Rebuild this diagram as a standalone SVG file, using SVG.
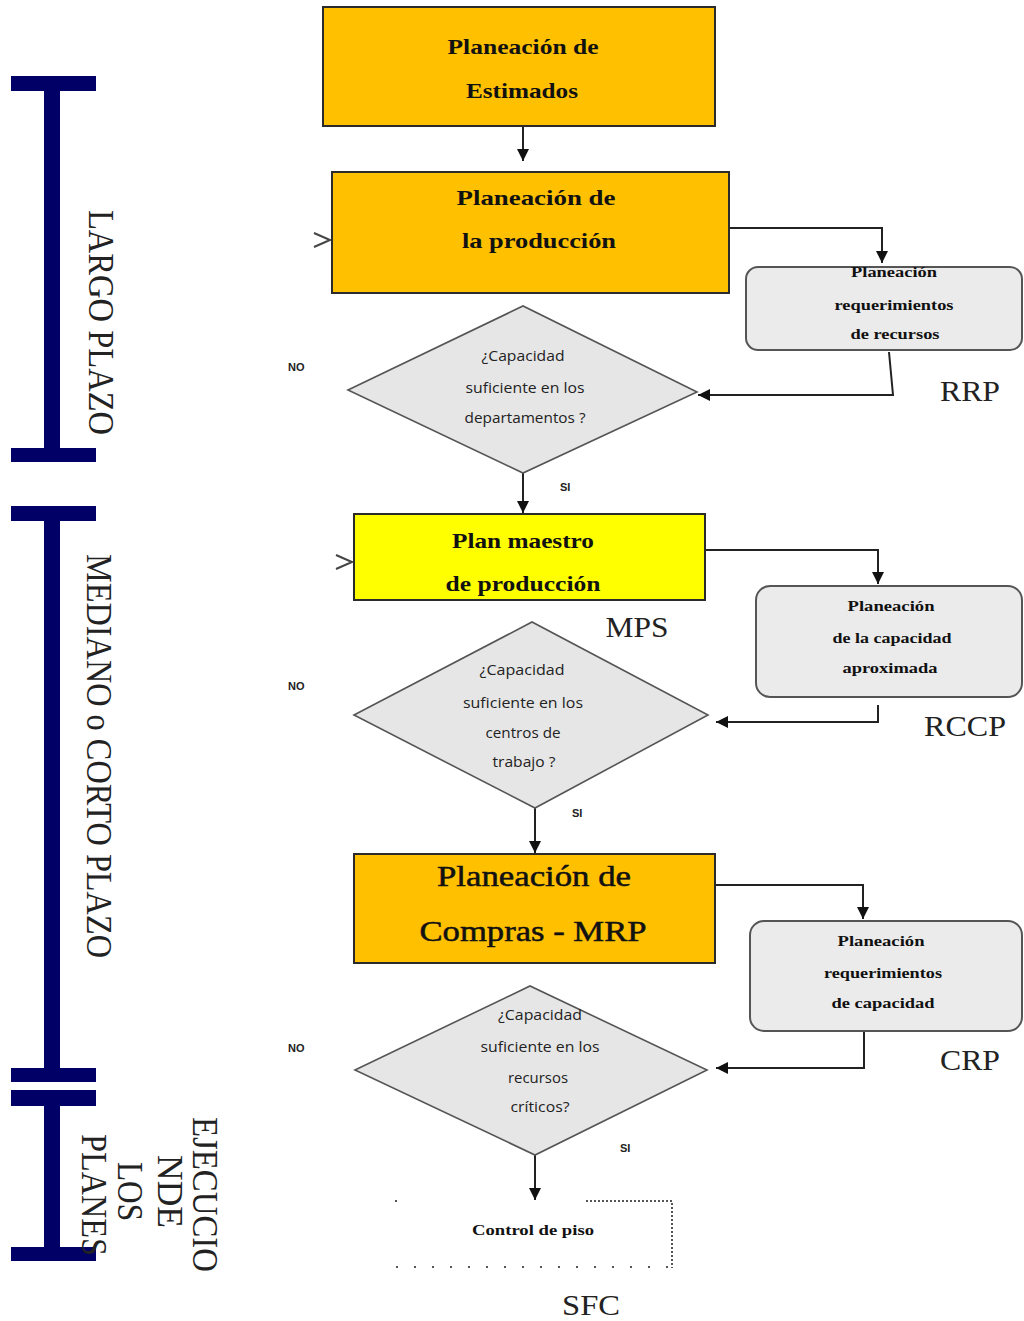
<svg xmlns="http://www.w3.org/2000/svg" width="1024" height="1321" viewBox="0 0 1024 1321">
<style>
.bg{fill:#ffffff}
.box{stroke:#2b2b2b;stroke-width:2}
.orange{fill:#FFC000}
.yellow{fill:#FFFF00}
.gray{fill:#EBEBEB;stroke:#555;stroke-width:2}
.dia{fill:#E6E6E6;stroke:#555;stroke-width:1.6}
.bt{font-family:"Liberation Serif",serif;font-weight:bold;font-size:22px;fill:#111;text-anchor:middle}
.bt2{font-family:"Liberation Serif",serif;font-size:29px;fill:#111;stroke:#111;stroke-width:0.5;text-anchor:middle}
.gt{font-family:"Liberation Serif",serif;font-weight:bold;font-size:15px;fill:#111;text-anchor:middle}
.dt{font-family:"Open Sans",sans-serif;font-size:14px;fill:#222;text-anchor:middle}
.lab{font-family:"Liberation Serif",serif;font-size:29px;fill:#222;text-anchor:middle}
.sm{font-family:"Liberation Sans",sans-serif;font-weight:bold;font-size:11px;fill:#222}
.vt{font-family:"Liberation Serif",serif;font-size:35px;fill:#222}
.bar{fill:#000066}
.con{fill:none;stroke:#222;stroke-width:2}
.chev{fill:none;stroke:#444;stroke-width:2}
.dot{fill:none;stroke:#555;stroke-width:2;stroke-dasharray:2,2}
</style>
<defs>
<marker id="ah" viewBox="0 0 10 10" refX="10" refY="5" markerWidth="12" markerHeight="12" markerUnits="userSpaceOnUse" orient="auto">
<path d="M0,0 L10,5 L0,10 z" fill="#111"/>
</marker>
</defs>
<rect class="bg" x="0" y="0" width="1024" height="1321"/>

<g id="bar-largo">
<rect class="bar" x="11" y="76" width="85" height="15"/>
<rect class="bar" x="44" y="90" width="16" height="360"/>
<rect class="bar" x="11" y="448" width="85" height="14"/>
<text class="vt" transform="translate(89,210) rotate(90)" textLength="225" lengthAdjust="spacingAndGlyphs">LARGO PLAZO</text>
</g>
<g id="bar-mediano">
<rect class="bar" x="11" y="506" width="85" height="15"/>
<rect class="bar" x="44" y="520" width="16" height="550"/>
<rect class="bar" x="11" y="1068" width="85" height="14"/>
<text class="vt" transform="translate(87,554) rotate(90)" textLength="404" lengthAdjust="spacingAndGlyphs">MEDIANO o CORTO PLAZO</text>
</g>
<g id="bar-ejecucion">
<rect class="bar" x="11" y="1090" width="85" height="16"/>
<rect class="bar" x="44" y="1105" width="16" height="144"/>
<rect class="bar" x="11" y="1247" width="85" height="14"/>
<text class="vt" transform="translate(193,1117) rotate(90)" textLength="155" lengthAdjust="spacingAndGlyphs">EJECUCIO</text>
<text class="vt" transform="translate(158,1155) rotate(90)" textLength="73" lengthAdjust="spacingAndGlyphs">NDE</text>
<text class="vt" transform="translate(118,1162) rotate(90)" textLength="59" lengthAdjust="spacingAndGlyphs">LOS</text>
<text class="vt" transform="translate(82,1134) rotate(90)" textLength="122" lengthAdjust="spacingAndGlyphs">PLANES</text>
</g>

<g id="connectors">
<path class="con" d="M523,126 V161" marker-end="url(#ah)"/>
<path class="con" d="M729,228 H882 V263" marker-end="url(#ah)"/>
<path class="con" d="M889,352 L893,395 H698" marker-end="url(#ah)"/>
<path class="con" d="M523,473 V513" marker-end="url(#ah)"/>
<path class="con" d="M705,550 H878 V584" marker-end="url(#ah)"/>
<path class="con" d="M878,705 V722 H716" marker-end="url(#ah)"/>
<path class="con" d="M535,808 V853" marker-end="url(#ah)"/>
<path class="con" d="M715,885 H863 V919" marker-end="url(#ah)"/>
<path class="con" d="M864,1031 V1068 H716" marker-end="url(#ah)"/>
<path class="con" d="M535,1155 V1200" marker-end="url(#ah)"/>
<polyline class="chev" points="314,233 330,240 314,247"/>
<polyline class="chev" points="336,555 352,562 336,569"/>
</g>

<g id="planeacion-estimados">
<rect class="box orange" x="323" y="7" width="392" height="119"/>
<text class="bt" x="523" y="54" textLength="151" lengthAdjust="spacingAndGlyphs">Planeación de</text>
<text class="bt" x="522" y="98" textLength="112" lengthAdjust="spacingAndGlyphs">Estimados</text>
</g>
<g id="planeacion-produccion">
<rect class="box orange" x="332" y="172" width="397" height="121"/>
<text class="bt" x="536" y="205" textLength="159" lengthAdjust="spacingAndGlyphs">Planeación  de</text>
<text class="bt" x="539" y="248" textLength="154" lengthAdjust="spacingAndGlyphs">la producción</text>
</g>
<g id="rrp-box">
<rect class="gray" x="746" y="267" width="276" height="83" rx="12"/>
<text class="gt" x="894" y="277" textLength="86" lengthAdjust="spacingAndGlyphs">Planeación</text>
<text class="gt" x="894" y="310" textLength="119" lengthAdjust="spacingAndGlyphs">requerimientos</text>
<text class="gt" x="895" y="339" textLength="89" lengthAdjust="spacingAndGlyphs">de recursos</text>
</g>
<text class="lab" x="970" y="401" textLength="60" lengthAdjust="spacingAndGlyphs">RRP</text>
<g id="decision-departamentos">
<polygon class="dia" points="348,390 523,306 697,392 523,473"/>
<text class="dt" x="523" y="361" textLength="83" lengthAdjust="spacingAndGlyphs">¿Capacidad</text>
<text class="dt" x="525" y="393" textLength="119" lengthAdjust="spacingAndGlyphs">suficiente en los</text>
<text class="dt" x="525" y="423" textLength="121" lengthAdjust="spacingAndGlyphs">departamentos ?</text>
</g>
<text class="sm" x="288" y="371">NO</text>
<text class="sm" x="560" y="491">SI</text>

<g id="plan-maestro">
<rect class="box yellow" x="354" y="514" width="351" height="86"/>
<text class="bt" x="523" y="548" textLength="142" lengthAdjust="spacingAndGlyphs">Plan maestro</text>
<text class="bt" x="523" y="591" textLength="155" lengthAdjust="spacingAndGlyphs">de producción</text>
</g>
<text class="lab" x="637" y="637" textLength="63" lengthAdjust="spacingAndGlyphs">MPS</text>
<g id="rccp-box">
<rect class="gray" x="756" y="586" width="266" height="111" rx="14"/>
<text class="gt" x="891" y="611" textLength="87" lengthAdjust="spacingAndGlyphs">Planeación</text>
<text class="gt" x="892" y="643" textLength="119" lengthAdjust="spacingAndGlyphs">de la capacidad</text>
<text class="gt" x="890" y="673" textLength="95" lengthAdjust="spacingAndGlyphs">aproximada</text>
</g>
<text class="lab" x="965" y="736" textLength="82" lengthAdjust="spacingAndGlyphs">RCCP</text>
<g id="decision-centros">
<polygon class="dia" points="354,715 532,622 708,715 535,808"/>
<text class="dt" x="522" y="675" textLength="85" lengthAdjust="spacingAndGlyphs">¿Capacidad</text>
<text class="dt" x="523" y="708" textLength="120" lengthAdjust="spacingAndGlyphs">suficiente en los</text>
<text class="dt" x="523" y="738" textLength="75" lengthAdjust="spacingAndGlyphs">centros de</text>
<text class="dt" x="524" y="767" textLength="63" lengthAdjust="spacingAndGlyphs">trabajo ?</text>
</g>
<text class="sm" x="288" y="690">NO</text>
<text class="sm" x="572" y="817">SI</text>

<g id="planeacion-compras">
<rect class="box orange" x="354" y="854" width="361" height="109"/>
<text class="bt2" x="534" y="886" textLength="194" lengthAdjust="spacingAndGlyphs">Planeación de</text>
<text class="bt2" x="533" y="941" textLength="227" lengthAdjust="spacingAndGlyphs">Compras - MRP</text>
</g>
<g id="crp-box">
<rect class="gray" x="750" y="921" width="272" height="110" rx="14"/>
<text class="gt" x="881" y="946" textLength="87" lengthAdjust="spacingAndGlyphs">Planeación</text>
<text class="gt" x="883" y="978" textLength="118" lengthAdjust="spacingAndGlyphs">requerimientos</text>
<text class="gt" x="883" y="1008" textLength="103" lengthAdjust="spacingAndGlyphs">de capacidad</text>
</g>
<text class="lab" x="970" y="1070" textLength="60" lengthAdjust="spacingAndGlyphs">CRP</text>
<g id="decision-recursos">
<polygon class="dia" points="355,1070 530,986 707,1070 535,1155"/>
<text class="dt" x="540" y="1020" textLength="84" lengthAdjust="spacingAndGlyphs">¿Capacidad</text>
<text class="dt" x="540" y="1052" textLength="119" lengthAdjust="spacingAndGlyphs">suficiente en los</text>
<text class="dt" x="538" y="1083" textLength="60" lengthAdjust="spacingAndGlyphs">recursos</text>
<text class="dt" x="540" y="1112" textLength="59" lengthAdjust="spacingAndGlyphs">críticos?</text>
</g>
<text class="sm" x="288" y="1052">NO</text>
<text class="sm" x="620" y="1152">SI</text>

<g id="control-piso">
<path class="dot" d="M586,1201 H672 V1268"/>
<path class="dot" d="M396,1267 H672" style="stroke-dasharray:2,16"/>
<path class="dot" d="M396,1200 V1204"/>
<text class="gt" x="533" y="1235" textLength="122" lengthAdjust="spacingAndGlyphs">Control de piso</text>
</g>
<text class="lab" x="591" y="1315" textLength="58" lengthAdjust="spacingAndGlyphs">SFC</text>
</svg>
